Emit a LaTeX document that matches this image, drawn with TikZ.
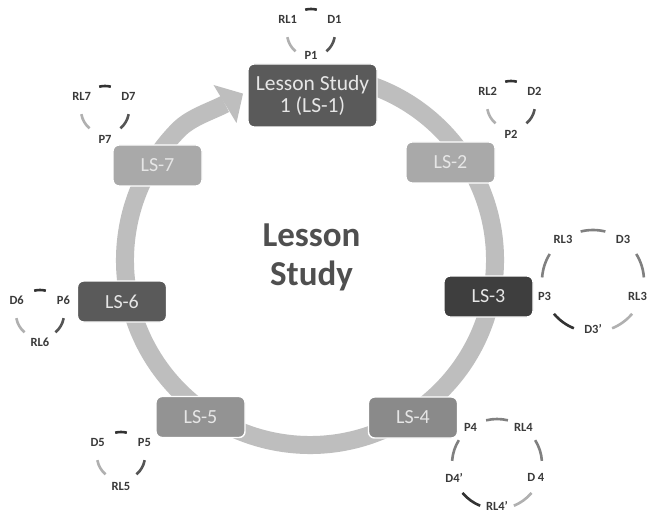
\documentclass[tikz,border=0pt]{standalone}
\usepackage{fontspec}
\setmainfont{Carlito}
\definecolor{ringgray}{HTML}{BEBEBE}
\definecolor{boxA}{HTML}{5A5A5A}
\definecolor{boxB}{HTML}{A9A9A9}
\definecolor{boxC}{HTML}{3E3E3E}
\definecolor{boxD}{HTML}{8A8A8A}
\definecolor{boxE}{HTML}{939393}
\definecolor{boxtext}{HTML}{E6E6E6}
\definecolor{centertext}{HTML}{4F4F4F}
\definecolor{labtext}{HTML}{3A3A3A}
\definecolor{arcdark}{HTML}{333333}
\definecolor{arcsemi}{HTML}{555555}
\definecolor{arcmid}{HTML}{808080}
\definecolor{arclight}{HTML}{B0B0B0}
\newcommand{\tricyc}[7]{%
  \draw[arcA] (#2,#3) ++(-104:24) arc[start angle=-104, end angle=-76, radius=24];
  \draw[arcB] (#2,#3) ++(10:24) arc[start angle=10, end angle=50, radius=24];
  \draw[arcL] (#2,#3) ++(130:24) arc[start angle=130, end angle=170, radius=24];
  \path (#2,#3) ++(-150:27) node[cyclab] (#1a) {#4};
  \path (#2,#3) ++(-30:27) node[cyclab] (#1b) {#5};
  \path (#2,#3) ++(0,#7) node[cyclab] (#1c) {#6};
}
\newcommand{\pentcyc}[9]{%
  \draw[arcM] (#2,#3) ++(-104:#4) arc[start angle=-104, end angle=-76, radius=#4];
  \draw[arcM] (#2,#3) ++(-32:#4) arc[start angle=-32, end angle=-4, radius=#4];
  \draw[arcL] (#2,#3) ++(40:#4) arc[start angle=40, end angle=68, radius=#4];
  \draw[arcA] (#2,#3) ++(112:#4) arc[start angle=112, end angle=140, radius=#4];
  \draw[arcM] (#2,#3) ++(184:#4) arc[start angle=184, end angle=212, radius=#4];
  \path (#2,#3) ++(-126:#4) node[cyclab] (#1a) {#5};
  \path (#2,#3) ++(-54:#4) node[cyclab] (#1b) {#6};
  \path (#2,#3) ++(18:#4) ++(-4,0) node[cyclab] (#1c) {#7};
  \path (#2,#3) ++(90:#4) ++(0,-3) node[cyclab] (#1d) {#8};
  \path (#2,#3) ++(162:#4) node[cyclab] (#1e) {#9};
}
\begin{document}
\begin{tikzpicture}[x=1pt,y=-1pt,
  lsbox/.style={rounded corners=6pt, draw=white, line width=1.4pt,
    minimum width=89pt, minimum height=41pt, inner sep=0pt, text=boxtext,
    font=\fontsize{20}{22}\selectfont},
  cyclab/.style={font=\bfseries\fontsize{12.5}{13}\selectfont, text=labtext, inner sep=0pt},
  arcA/.style={draw=arcdark, line width=2.6pt},
  arcB/.style={draw=arcsemi, line width=2.6pt},
  arcM/.style={draw=arcmid, line width=2.6pt},
  arcL/.style={draw=arclight, line width=2.6pt},
  ring/.style={draw=ringgray, line width=18pt},
  centerlab/.style={font=\bfseries\fontsize{35}{38}\selectfont, text=centertext, inner sep=0pt, anchor=base}
]
\useasboundingbox (0,0) rectangle (648,513);
\fill[white] (0,0) rectangle (648,513);
\clip (0,0) rectangle (648,513);

% main ring with arrow
\draw[ring] (310,260) ++(-80:185) arc[start angle=-80, end angle=225, radius=185]
  .. controls (191.2,117.2) and (212.6,110.6) .. (225,104);
\fill[ringgray] (213.5,85.0) -- (243.0,93.6) -- (236.5,123.0) -- cycle;

% boxes
\node[lsbox, fill=boxA, minimum width=129pt, minimum height=63pt, align=center,
  font=\fontsize{21.5}{22}\selectfont] (ls1) at (312.5,95.5) {Lesson Study\\1 (LS-1)};
\node[lsbox, fill=boxB] (ls2) at (450.5,162.5) {LS-2};
\node[lsbox, fill=boxC] (ls3) at (488.5,296.5) {LS-3};
\node[lsbox, fill=boxD] (ls4) at (413,417.5) {LS-4};
\node[lsbox, fill=boxE] (ls5) at (200.5,417) {LS-5};
\node[lsbox, fill=boxA] (ls6) at (122,301.5) {LS-6};
\node[lsbox, fill=boxB] (ls7) at (157.5,165.5) {LS-7};

% center title
\node[centerlab] (title1) at (311.5,246.7) {Lesson};
\node[centerlab] (title2) at (311.5,285) {Study};

% small cycles
\tricyc{c1}{311}{33}{RL1}{D1}{P1}{22}
\tricyc{c2}{511}{105}{RL2}{D2}{P2}{29}
\tricyc{c7}{105}{110}{RL7}{D7}{P7}{29}
\tricyc{c6}{40}{314}{D6}{P6}{RL6}{28}
\tricyc{c5}{121}{456}{D5}{P5}{RL5}{30}
\pentcyc{c3}{593}{281}{51}{RL3}{D3}{RL3}{D3'}{P3}
\pentcyc{c4}{497}{464}{45}{P4}{RL4}{D 4}{RL4'}{D4'}
\end{tikzpicture}
\end{document}
